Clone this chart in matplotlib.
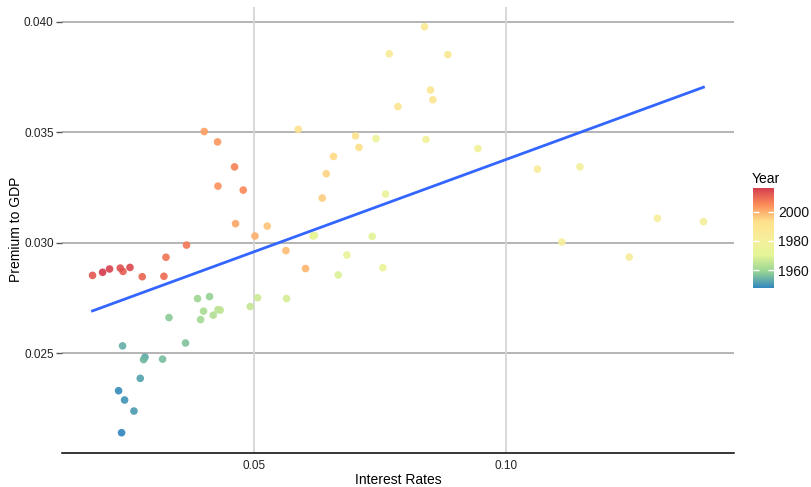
import numpy as np
import matplotlib
matplotlib.use("Agg")
import matplotlib.pyplot as plt
from matplotlib.colors import LinearSegmentedColormap, Normalize

plt.rcParams['font.family'] = ['Liberation Sans', 'DejaVu Sans']

years = list(range(1948, 2017))
interest_rates = [
    0.02376, 0.02317, 0.02436, 0.02622, 0.02747, 0.02840, 0.02396, 0.02812, 0.03189, 0.03644,
    0.03316, 0.04120, 0.03882, 0.03942, 0.04001, 0.04193, 0.04287, 0.04332, 0.04927, 0.05071,
    0.05646, 0.06671, 0.07344, 0.06169, 0.06201, 0.06843, 0.07556, 0.07608, 0.07418, 0.08409,
    0.09439, 0.11461, 0.13910, 0.12998, 0.11104, 0.12438, 0.10620, 0.07681, 0.08381, 0.08845,
    0.08500, 0.08547, 0.07854, 0.07013, 0.05878, 0.07081, 0.06577, 0.06433, 0.06354, 0.05264,
    0.05634, 0.06023, 0.05020, 0.04635, 0.04015, 0.04279, 0.04287, 0.04788, 0.04616, 0.03664,
    0.03256, 0.03216, 0.02786, 0.02404, 0.01801, 0.02350, 0.02543, 0.02138, 0.02000,
]
premium_to_gdp = [
    0.02140, 0.02330, 0.02288, 0.02238, 0.02386, 0.02482, 0.02533, 0.02471, 0.02473, 0.02546,
    0.02661, 0.02756, 0.02747, 0.02652, 0.02690, 0.02672, 0.02697, 0.02695, 0.02711, 0.02751,
    0.02747, 0.02854, 0.03028, 0.03030, 0.03033, 0.02944, 0.02887, 0.03220, 0.03471, 0.03467,
    0.03426, 0.03343, 0.03095, 0.03110, 0.03003, 0.02935, 0.03333, 0.03855, 0.03977, 0.03851,
    0.03691, 0.03647, 0.03616, 0.03483, 0.03513, 0.03431, 0.03390, 0.03312, 0.03202, 0.03075,
    0.02964, 0.02883, 0.03030, 0.03086, 0.03503, 0.03456, 0.03256, 0.03238, 0.03343, 0.02989,
    0.02934, 0.02848, 0.02846, 0.02870, 0.02852, 0.02885, 0.02888, 0.02881, 0.02866,
]
x_ticks = [0.05, 0.10]
x_tick_labels = ["0.05", "0.10"]
y_ticks = [0.025, 0.030, 0.035, 0.040]
y_tick_labels = ["0.025", "0.030", "0.035", "0.040"]
cbar_ticks = [1960, 1980, 2000]

x = np.array(interest_rates)
y = np.array(premium_to_gdp)
yr = np.array(years)

palette = ["#3288BD", "#99D594", "#E6F598", "#F7EE9C", "#FEE08B", "#FC8D59", "#D53E4F"]
cmap = LinearSegmentedColormap.from_list("spec", palette)
norm = Normalize(vmin=yr.min(), vmax=yr.max())

fig = plt.figure(figsize=(8.12, 4.87), dpi=100)
ax = fig.add_axes([62/812, 1 - 453/487, (734-62)/812, (453-6.5)/487])

def expand(a):
    lo, hi = a.min(), a.max()
    pad = (hi - lo) * 0.05
    return lo - pad, hi + pad

ax.set_xlim(*expand(x))
ax.set_ylim(*expand(y))

for v in y_ticks:
    ax.axhline(v, color="#a0a0a0", lw=1.1, zorder=0)
for v in x_ticks:
    ax.axvline(v, color="#d6d6d6", lw=1.3, zorder=0)

ax.scatter(x, y, c=yr, cmap=cmap, norm=norm, s=30, edgecolors="none", alpha=0.92, zorder=2)

slope, intercept = np.polyfit(x, y, 1)
xl = np.array([x.min(), x.max()])
ax.plot(xl, slope * xl + intercept, color="#3366FF", lw=2.0, zorder=3)

for s in ["top", "right", "left"]:
    ax.spines[s].set_visible(False)
ax.spines["bottom"].set_color("black")
ax.spines["bottom"].set_linewidth(1.1)

ax.set_xticks(x_ticks)
ax.set_xticklabels(x_tick_labels)
ax.set_yticks(y_ticks)
ax.set_yticklabels(y_tick_labels)
ax.tick_params(axis="x", length=0, pad=5, labelsize=8.5, labelcolor="#222222")
ax.tick_params(axis="y", length=4, width=1, color="#555555", pad=2, labelsize=8.5, labelcolor="#222222")

ax.set_xlabel("Interest Rates", fontsize=10, labelpad=1)
ax.set_ylabel("Premium to GDP", fontsize=10, labelpad=1)

cax = fig.add_axes([753/812, 1 - 288/487, 21/812, 100/487])
sm = plt.cm.ScalarMappable(norm=norm, cmap=cmap)
cb = fig.colorbar(sm, cax=cax, ticks=cbar_ticks)
cb.outline.set_visible(False)
cax.tick_params(which="major", direction="in", color="white", length=4, width=1,
                left=True, right=True, labelsize=10, pad=3)
for lbl in cax.get_yticklabels():
    lbl.set_color("#111111")
fig.text(752/812, 1 - 183/487, "Year", fontsize=10, ha="left", va="baseline")

fig.savefig("out.png", dpi=100)
